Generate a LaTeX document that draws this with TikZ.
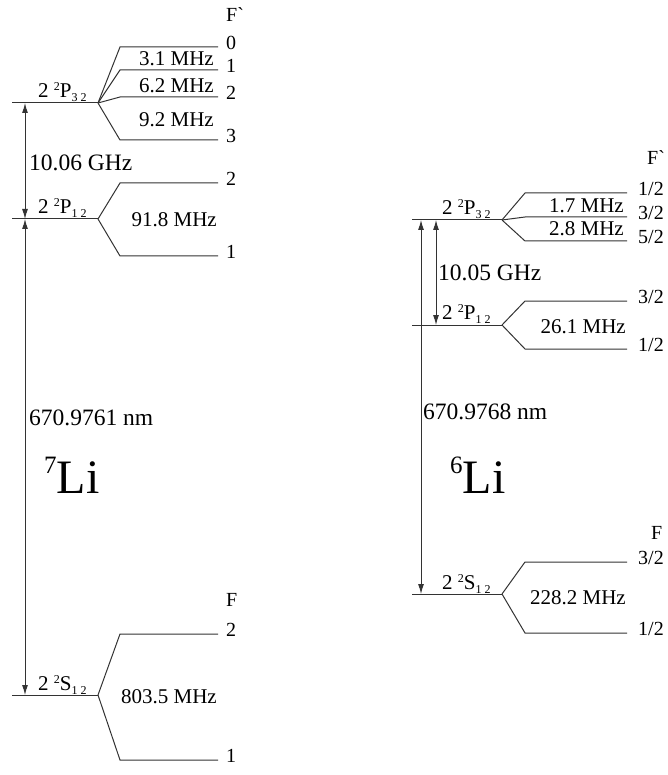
\documentclass[tikz,border=0pt]{standalone}
\usepackage{fontspec}
\setmainfont{Liberation Serif}
\newfontfamily\rawfont{Liberation Serif}[Ligatures=TeXOff]
\usetikzlibrary{arrows.meta}
\tikzset{
    lvl/.style={line width=1pt, draw=black!80},
    trans/.style={line width=1pt, draw=black!80,
        {Latex[length=10pt,width=6pt]}-{Latex[length=10pt,width=6pt]}},
    txt/.style={font=\fontsize{21}{24}\selectfont, inner sep=0pt},
    big/.style={font=\fontsize{23.5}{26}\selectfont, inner sep=0pt, anchor=west},
    flab/.style={font=\fontsize{20}{24}\selectfont, inner sep=0pt, anchor=west},
    term/.style={font=\fontsize{21}{24}\selectfont, inner sep=0pt, anchor=base west},
    iso/.style={font=\fontsize{48}{50}\selectfont, inner sep=0pt, anchor=base west}
}
% term symbol: 2 ^2L_{J}
\newcommand{\termsym}[2]{2 \raisebox{7pt}{\fontsize{12}{12}\selectfont 2}#1\raisebox{-4pt}{\fontsize{12}{12}\selectfont #2}}
\newcommand{\isotope}[1]{\raisebox{20pt}{\fontsize{25}{25}\selectfont #1}Li}

\begin{document}
\begin{tikzpicture}[x=1pt, y=-1pt]
\useasboundingbox (0,0) rectangle (668,775);

%%% 7Li
% 2P3/2
\coordinate (aP3a) at (12,103);
\coordinate (aP3) at (98,103);
\draw[lvl] (aP3a) -- (aP3);
\foreach \y/\f [count=\i] in {47/0, 70/1, 97/2, 140/3} {
    \coordinate (aP3s\i) at (120,\y);
    \coordinate (aP3e\i) at (218,\y);
    \draw[lvl] (aP3) -- (aP3s\i) -- (aP3e\i);
    \node[flab] (aP3l\i) at ([xshift=8pt, yshift=4pt]aP3e\i) {\f};
}
\node[flab] (aFp) at (226,15) {F{\rawfont\char"60}};
\node[term] (aP3t) at (38,98) {\termsym{P}{3\hspace{3pt}2}};
\node[txt, anchor=base east] (aM1) at (214,66) {3.1 MHz};
\node[txt, anchor=base east] (aM2) at (214,93) {6.2 MHz};
\node[txt, anchor=base east] (aM3) at (214,127) {9.2 MHz};

% 2P1/2
\coordinate (aP1a) at (12,219);
\coordinate (aP1) at (98,219);
\draw[lvl] (aP1a) -- (aP1);
\foreach \y/\f [count=\i] in {183/2, 256/1} {
    \coordinate (aP1s\i) at (120,\y);
    \coordinate (aP1e\i) at (218,\y);
    \draw[lvl] (aP1) -- (aP1s\i) -- (aP1e\i);
    \node[flab] (aP1l\i) at ([xshift=8pt, yshift=4pt]aP1e\i) {\f};
}
\node[term] (aP1t) at (38,214) {\termsym{P}{1\hspace{3pt}2}};
\node[txt, anchor=east] (aM4) at (217,220) {91.8 MHz};

% 2S1/2
\coordinate (aSa) at (12,695);
\coordinate (aS) at (98,695);
\draw[lvl] (aSa) -- (aS);
\foreach \y/\f [count=\i] in {634/2, 760/1} {
    \coordinate (aSs\i) at (120,\y);
    \coordinate (aSe\i) at (218,\y);
    \draw[lvl] (aS) -- (aSs\i) -- (aSe\i);
    \node[flab] (aSl\i) at ([xshift=8pt, yshift=4pt]aSe\i) {\f};
}
\node[flab] (aF) at (226,600) {F};
\node[term] (aSt) at (38,690) {\termsym{S}{1\hspace{3pt}2}};
\node[txt, anchor=east] (aM5) at (217,697) {803.5 MHz};

% transitions
\coordinate (aT1) at (25,103);
\coordinate (aT2) at (25,219);
\coordinate (aT3) at (25,695);
\draw[trans] (aT1) -- (aT2);
\draw[trans] (aT2) -- (aT3);
\node[big] (aG) at (29,163) {10.06 GHz};
\node[big] (aNm) at (29,418) {670.9761 nm};
\node[iso] (aLi) at (44,493) {\isotope{7}};

%%% 6Li
% 2P3/2
\coordinate (bP3a) at (412,220);
\coordinate (bP3) at (502,220);
\draw[lvl] (bP3a) -- (bP3);
\foreach \y/\n [count=\i] in {193/1, 217/3, 241/5} {
    \coordinate (bP3s\i) at (525,\y);
    \coordinate (bP3e\i) at (627,\y);
    \draw[lvl] (bP3) -- (bP3s\i) -- (bP3e\i);
    \node[flab] (bP3l\i) at ([xshift=11pt, yshift=4pt]bP3e\i) {\n/2};
}
\node[flab] (bFp) at (647,158) {F{\rawfont\char"60}};
\node[term] (bP3t) at (442,215) {\termsym{P}{3\hspace{3pt}2}};
\node[txt, anchor=base east] (bM1) at (624,213) {1.7 MHz};
\node[txt, anchor=base east] (bM2) at (624,236) {2.8 MHz};

% 2P1/2
\coordinate (bP1a) at (412,325);
\coordinate (bP1) at (502,325);
\draw[lvl] (bP1a) -- (bP1);
\foreach \y/\n [count=\i] in {301/3, 349/1} {
    \coordinate (bP1s\i) at (525,\y);
    \coordinate (bP1e\i) at (627,\y);
    \draw[lvl] (bP1) -- (bP1s\i) -- (bP1e\i);
    \node[flab] (bP1l\i) at ([xshift=11pt, yshift=4pt]bP1e\i) {\n/2};
}
\node[term] (bP1t) at (442,319) {\termsym{P}{1\hspace{3pt}2}};
\node[txt, anchor=east] (bM3) at (626,327) {26.1 MHz};

% 2S1/2
\coordinate (bSa) at (412,594);
\coordinate (bS) at (502,594);
\draw[lvl] (bSa) -- (bS);
\foreach \y/\n [count=\i] in {562/3, 633/1} {
    \coordinate (bSs\i) at (525,\y);
    \coordinate (bSe\i) at (627,\y);
    \draw[lvl] (bS) -- (bSs\i) -- (bSe\i);
    \node[flab] (bSl\i) at ([xshift=11pt, yshift=4pt]bSe\i) {\n/2};
}
\node[flab] (bF) at (651,533) {F};
\node[term] (bSt) at (442,589) {\termsym{S}{1\hspace{3pt}2}};
\node[txt, anchor=east] (bM4) at (626,598) {228.2 MHz};

% transitions
\coordinate (bT1) at (421,220);
\coordinate (bT2) at (421,594);
\coordinate (bT3) at (436,220);
\coordinate (bT4) at (436,325);
\draw[trans] (bT1) -- (bT2);
\draw[trans] (bT3) -- (bT4);
\node[big] (bG) at (438,273) {10.05 GHz};
\node[big] (bNm) at (423,412) {670.9768 nm};
\node[iso] (bLi) at (450,493) {\isotope{6}};
\end{tikzpicture}
\end{document}
